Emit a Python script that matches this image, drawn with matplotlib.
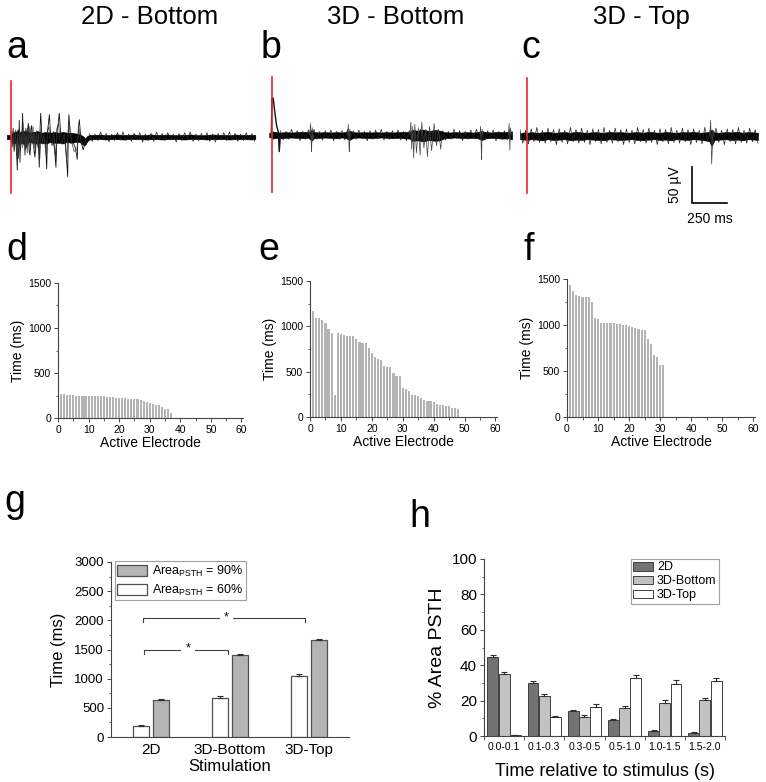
import numpy as np
import matplotlib
matplotlib.use("Agg")
import matplotlib.pyplot as plt
from matplotlib.patches import Patch
from matplotlib.ticker import MultipleLocator, FixedLocator

plt.rcParams['font.family'] = ['Liberation Sans', 'DejaVu Sans']
plt.rcParams['mathtext.fontset'] = 'custom'
plt.rcParams['mathtext.rm'] = 'Liberation Sans'
plt.rcParams['mathtext.it'] = 'Liberation Sans'

nan = np.nan
# ---------------- data ----------------
titles = ["2D - Bottom", "3D - Bottom", "3D - Top"]

# trace a (2D bottom) : time (ms), envelope (uV)
ta_env_t = [-30,-10,0,15,40,70,100,130,160,190,220,250,280,310,340,370,400,430,460,490,515,530,545,560,600,640,680,720,760,800,840,880,920,960,1000,1040,1080,1120,1160,1200,1240,1280,1320,1360,1400,1440,1480,1520,1560,1600,1640,1680,1720,1745]
ta_up = [3,3,3.5,6,8,7,8,6,7,8,6,7,6,7,6,7,6,6,5,4,1,-2,1.5,3,3,3.5,2.5,3,3.5,3,3,3.5,2.5,3,3.5,3,3,3.5,2.5,3,3,3.5,3,2.5,3,3.5,3,3,2.5,3.5,3,3,3,3]
ta_lo = [-3,-3,-4,-8,-9,-8,-9,-7,-8,-9,-8,-9,-7,-8,-8,-9,-7,-8,-7,-7,-11,-11,-6,-3.5,-3,-3,-3.5,-3,-3,-3.5,-3,-3,-3,-3.5,-3,-3,-3.5,-3,-3,-3,-3.5,-3,-3,-3,-3.5,-3,-3,-3,-3.5,-3,-3,-3,-3.5,-3]
ta_sp_t = [0,8,15,22,30,38,45,50,55,59,64,70,76,83,88,94,100,106,112,118,124,130,136,142,148,154,160,165,171,178,185,192,202,208,212,220,228,236,245,255,262,268,274,282,290,300,310,321,330,338,345,355,365,375,390,405,410,414,422,432,445,460,473,480,488,496,505,516,528,540,552]
ta_sp_v = [2,-10,12,-20,8,-15,-46,10,-12,23,-35,5,-8,33,-10,8,-25,12,-15,10,19,-20,-25,10,16,-8,5,-20,-28,0,-10,8,-42,15,33,5,-10,-5,0,-44,10,20,31,5,-8,-5,-15,-42,10,20,33,5,-8,-5,-10,-55,15,31,5,-5,-8,-15,-31,10,24,5,-10,-18,-8,-2,0]
ta_sp2_t = [0,5,12,18,26,34,41,48,53,62,68,74,80,86,92,98,104,110,116,122,128,134,140,146,152,158,164,170,176,182,190,198,206,215,225,235,250,260,270,280,295,305,318,328,340,350,362,380,398,408,418,430,450,470,485,500,520]
ta_sp2_v = [0,8,-14,6,-18,10,-25,6,-30,12,-20,8,-15,20,-12,6,-18,9,-22,8,-12,15,-18,7,-10,14,-16,6,-22,9,-14,6,-30,12,-8,4,-25,8,14,-6,-12,8,-30,12,18,-6,-10,4,-35,10,18,-4,-20,-18,12,-6,-10]
ta_hair = [5,-6,4,-5,7,-4,5,-7,4,-5,6,-4,7,-5,4,-6,5,-4,6,-7,4,-5,5,-6,7,-4,5,-5,6,-4,4,-7,5,-5,6,-4,7,-6,4,-5,5,-4,6,-6,4,-7,5,-4,6,-5,7,-4,5,-6,4,-5,6,-4,5,-6]

# trace b (3D bottom)
tb_env_t = [-20,0,5,30,60,100,140,180,220,260,283,300,340,380,420,460,500,530,552,580,620,660,700,740,780,820,860,900,940,980,1000,1040,1080,1120,1160,1200,1230,1270,1310,1350,1390,1430,1470,1497,1530,1570,1610,1650,1690,1715]
tb_up = [3,4,5,4,3.5,4,3.5,4,4.5,4,7,4,3.5,4,3.5,4,3.5,4.5,6,4,3.5,4,3.5,4,3.5,4,3.5,4,4.5,4,7,6,7.5,5.5,7,6,4,3.5,4,3.5,4,3.5,4,5.5,4,3.5,4.5,4,4.5,5]
tb_lo = [-3,-4,-5,-4,-4.5,-4,-3.5,-4,-4.5,-4,-8,-4.5,-4,-3.5,-4,-4.5,-3.5,-4.5,-7,-4,-3.5,-4,-4.5,-4,-3.5,-4,-4.5,-4,-4.5,-5,-8,-7.5,-9,-7,-8,-7.5,-4.5,-4,-3.5,-4,-4.5,-4,-4.5,-7,-4.5,-4,-4.5,-5,-4.5,-6]
tb_art_t = [-5,0,9,21,34,45,52,60]
tb_art_v = [0,51,51,30,11.6,4.6,-23,0]
tb_sp_t = [268,276,280,283,287,292,298,nan,540,545,549,552,556,562,nan,985,992,998,1005,1012,1020,1032,1045,1058,1070,1085,1098,1110,1125,1140,1158,1175,1190,1205,1215,nan,1485,1490,1494,1497,1501,1508,nan,1688,1694,1699,1704,1710]
tb_sp_v = [0,16,-12,-23,10,-8,0,nan,0,15,-10,-23,8,0,nan,0,18,-20,12,-32,15,-25,10,-28,18,-18,8,-30,12,-22,16,-15,8,-20,0,nan,0,12,-15,-34,8,0,nan,0,16,-21,10,0]
tb_hair = [6,-7,5,-6,8,-5,6,-8,5,-6,7,-5,8,-6,5,-7,6,-5,7,-8,5,-6,6,-7,8,-5,6,-6,7,-5,5,-8,6,-6,7,-5,8,-7,5,-6,6,-5,7,-7,5,-8,6,-5,7,-6,8,-5,6,-7,5,-6,7,-5,6,-7,5,-6,8,-5,6,-8,5,-6,7,-5,8,-6,5,-7,6,-5,7,-8,5,-6,6,-7,8]

# trace c (3D top)
tc_env_t = [-50,-20,0,30,70,110,150,190,230,270,310,350,390,430,470,510,550,590,630,670,710,750,790,830,870,910,950,990,1030,1070,1110,1150,1190,1230,1270,1300,1319,1340,1380,1420,1460,1500,1540,1580,1620,1650]
tc_up = [4,5,4.5,5.5,4.5,5,6,4.5,5,5.5,4.5,6,5,4.5,5.5,5,4.5,6,5,5.5,4.5,5,5.5,4.5,6,5,4.5,5.5,5,4.5,5.5,5,6,4.5,5,5.5,9,5,4.5,5.5,5,6,4.5,5.5,5,4.5]
tc_lo = [-4.5,-5,-5.5,-4.5,-5,-6,-4.5,-5.5,-5,-4.5,-6,-5,-5.5,-4.5,-5,-5.5,-6,-4.5,-5,-5.5,-5,-4.5,-5.5,-6,-5,-4.5,-5.5,-5,-6,-4.5,-5,-5.5,-4.5,-5,-6,-7,-14,-5.5,-5,-4.5,-5.5,-5,-6,-4.5,-5,-5.5]
tc_sp_t = [1305,1312,1316,1319,1323,1328,1335]
tc_sp_v = [0,22,-15,-39,-20,8,0]
tc_hair = [9,-10,8,-11,10,-8,12,-9,8,-10,11,-8,9,-12,10,-9,8,-11,12,-8,9,-10,11,-9,8,-12,10,-8,9,-11,12,-9,8,-10,11,-8,9,-12,10,-9,8,-11,12,-8,9,-10,11,-9,8,-12,10,-8,9,-11,12,-9,8,-10,11,-8,9,-12,10,-9,8,-11,12,-8,9,-10,11,-9,8,-12,10,-8,9,-11,12,-9,8,-10,11,-8,9,-10]

stim_span = [(-78, 78), (-79, 81), (-79, 81)]
scale_uV = 50
scale_ms = 250

# panels d-f : time per active electrode (ms)
d_vals = [265,262,255,253,252,250,248,246,245,244,243,242,241,240,239,238,236,230,226,222,220,218,216,214,210,206,200,190,175,165,160,150,140,125,100,95,60]
e_vals = [1173,1096,1096,1070,1041,968,931,246,924,913,906,898,898,898,858,832,814,814,759,704,660,642,631,557,552,552,485,455,450,320,312,285,242,240,227,209,191,180,178,165,147,136,136,125,117,99,95,88]
f_vals = [1430,1373,1330,1320,1308,1300,1300,1245,1076,1069,1022,1022,1022,1022,1018,1015,1015,1004,997,986,975,967,960,950,942,851,797,678,652,562,562]

# panel g
g_groups = ["2D", "3D-Bottom", "3D-Top"]
g_60 = [190, 670, 1050]
g_60_err = [10, 30, 35]
g_90 = [635, 1400, 1660]
g_90_err = [15, 20, 20]

# panel h
h_bins = ["0.0-0.1", "0.1-0.3", "0.3-0.5", "0.5-1.0", "1.0-1.5", "1.5-2.0"]
h_2d = [44.5, 29.8, 14.0, 9.0, 2.8, 1.7]
h_2d_err = [1.0, 1.0, 0.5, 0.5, 0.5, 0.3]
h_3db = [35.1, 22.6, 10.9, 15.7, 18.9, 20.2]
h_3db_err = [1.2, 1.0, 1.0, 1.0, 1.3, 1.2]
h_3dt = [0.3, 10.6, 16.2, 33.0, 29.2, 31.0]
h_3dt_err = [0.0, 0.7, 1.8, 1.6, 2.3, 2.0]

# ---------------- figure ----------------
W, H = 766, 782
fig = plt.figure(figsize=(W/100, H/100), dpi=100)

def px_axes(l, t, r, b):
    return fig.add_axes([l/W, 1 - b/H, (r-l)/W, (b-t)/H])

def ftext(x, y, s, **kw):
    fig.text(x/W, 1 - y/H, s, **kw)

MS_PER_PX = 250/35.0
UV_PER_PX = 50/36.0

def trace_axes(l, r, x0, base, top=70, bot=240):
    ax = px_axes(l, top, r, bot)
    ax.set_xlim((l - x0)*MS_PER_PX, (r - x0)*MS_PER_PX)
    ax.set_ylim((base - bot)*UV_PER_PX, (base - top)*UV_PER_PX)
    ax.axis('off')
    return ax

trace_specs = [
    (trace_axes(3, 262, 11, 137), ta_env_t, ta_up, ta_lo, 560, ta_hair),
    (trace_axes(265, 520, 272, 135), tb_env_t, tb_up, tb_lo, 60, tb_hair),
    (trace_axes(520, 766, 527, 136), tc_env_t, tc_up, tc_lo, -50, tc_hair),
]
for i, (ax, tt, up, lo, h0, hair) in enumerate(trace_specs):
    ax.fill_between(tt, lo, up, color='black', lw=0.4, zorder=2)
    ht = h0 + 20*np.arange(len(hair))
    ax.plot(ht, hair, color='#222222', lw=0.5, zorder=2)
    ax.plot([0, 0], stim_span[i], color='#e8282b', lw=1.2, zorder=4)
axa, axb, axc = [s[0] for s in trace_specs]
axa.plot(ta_sp_t, ta_sp_v, color='#111111', lw=0.6, zorder=3)
axa.plot(ta_sp2_t, ta_sp2_v, color='#333333', lw=0.5, zorder=3)
axb.plot(tb_art_t, tb_art_v, color='#111111', lw=1.0, zorder=3)
axb.plot(tb_sp_t, tb_sp_v, color='#444444', lw=0.5, zorder=3)
axc.plot(tc_sp_t, tc_sp_v, color='#444444', lw=0.5, zorder=3)

# scale bar in trace c
t0, v0 = 1178, -93
axc.plot([t0, t0, t0 + scale_ms], [v0 + scale_uV, v0, v0], color='black', lw=1.2,
         solid_joinstyle='miter', clip_on=False)
axc.text(t0 - 17*MS_PER_PX, v0 + scale_uV/2, "50 µV", rotation=90, ha='center', va='center', fontsize=10)
axc.text(t0 + 18*MS_PER_PX, v0 - 16*UV_PER_PX, "250 ms", ha='center', va='center', fontsize=10)

# titles and letters
for x, s in zip([150, 396, 641], titles):
    ftext(x, 24, s, fontsize=18.5, ha='center', va='baseline')
for x, y, s in [(6, 58, 'a'), (261, 58, 'b'), (521, 58, 'c'),
                (6, 260, 'd'), (258, 260, 'e'), (524, 260, 'f'),
                (4, 512, 'g'), (409, 527, 'h')]:
    ftext(x, y, s, fontsize=27, ha='left', va='baseline')

SP = '#444444'
def style(ax, fs):
    for s in ['top', 'right']:
        ax.spines[s].set_visible(False)
    for s in ['left', 'bottom']:
        ax.spines[s].set_color(SP)
        ax.spines[s].set_linewidth(0.8)
    ax.tick_params(which='both', direction='out', color=SP, labelsize=fs, pad=2)
    ax.tick_params(which='major', length=3, width=0.7)
    ax.tick_params(which='minor', length=1.8, width=0.6)

# panels d, e, f
for (l, t, r, b), vals in zip([(58, 283, 243, 418), (310, 281, 497, 417), (567, 279, 755, 417)],
                              [d_vals, e_vals, f_vals]):
    ax = px_axes(l, t, r, b)
    x = np.arange(1, len(vals) + 1)
    ax.bar(x, vals, width=0.68, color='#b4b4b4', edgecolor='none')
    ax.set_xlim(0, 60.5)
    ax.set_ylim(0, 1500)
    ax.xaxis.set_major_locator(MultipleLocator(10))
    ax.xaxis.set_minor_locator(MultipleLocator(5))
    ax.yaxis.set_major_locator(MultipleLocator(500))
    ax.yaxis.set_minor_locator(MultipleLocator(250))
    style(ax, 7.5)
    ax.set_ylabel("Time (ms)", fontsize=10, labelpad=2)
    ax.set_xlabel("Active Electrode", fontsize=10, labelpad=1)

# panel g
axg = px_axes(111, 562, 349, 737)
gx = np.arange(1, len(g_groups) + 1)
bw = 0.2
ekg = dict(elinewidth=0.8, capthick=0.8, ecolor='#303030')
axg.bar(gx - 0.125, g_60, width=bw, color='white', edgecolor='#505050', lw=0.9,
        yerr=[np.zeros(3), g_60_err], capsize=2.5, error_kw=ekg)
axg.bar(gx + 0.125, g_90, width=bw, color='#b4b4b4', edgecolor='#505050', lw=0.9,
        yerr=[np.zeros(3), g_90_err], capsize=2.5, error_kw=ekg)
axg.set_xlim(0.5, 3.5)
axg.set_ylim(0, 3000)
axg.set_xticks(gx)
axg.set_xticklabels(g_groups, fontsize=11)
axg.yaxis.set_major_locator(MultipleLocator(500))
axg.yaxis.set_minor_locator(MultipleLocator(250))
style(axg, 9.5)
axg.tick_params(axis='x', labelsize=11, length=0, pad=4)
axg.set_ylabel("Time (ms)", fontsize=12, labelpad=6)
axg.set_xlabel("Stimulation", fontsize=12, labelpad=2)
# significance brackets
for x1, x2, y in [(0.9, 2.95, 2040), (0.91, 1.97, 1500)]:
    axg.plot([x1, x1, x2, x2], [y - 70, y, y, y - 70], color='#404040', lw=0.8)
    axg.text((x1 + x2)/2 + 0.03, y + 10, '*', ha='center', va='center', fontsize=9,
             bbox=dict(facecolor='white', edgecolor='none', pad=3))
hg = [Patch(facecolor='#b4b4b4', edgecolor='#505050', lw=0.9), Patch(facecolor='white', edgecolor='#505050', lw=0.9)]
lg = axg.legend(hg, [r'Area$_{\mathregular{PSTH}}$ = 90%', r'Area$_{\mathregular{PSTH}}$ = 60%'],
                loc='upper left', bbox_to_anchor=(0.015, 1.005), fontsize=9, frameon=True, fancybox=False,
                handlelength=2.4, handleheight=0.95, handletextpad=0.4, borderpad=0.2, labelspacing=0.3,
                borderaxespad=0)
lg.get_frame().set_edgecolor('#888888')
lg.get_frame().set_linewidth(0.8)

# panel h
axh = px_axes(484, 559, 725, 736)
hx = np.arange(len(h_bins))
w = 0.27
ek = dict(elinewidth=0.8, capthick=0.8, ecolor='#303030')
axh.bar(hx - 0.28, h_2d, width=w, color='#737373', edgecolor='#404040', lw=0.7,
        yerr=[np.zeros(6), h_2d_err], capsize=2, error_kw=ek, label='2D')
axh.bar(hx, h_3db, width=w, color='#c2c2c2', edgecolor='#404040', lw=0.7,
        yerr=[np.zeros(6), h_3db_err], capsize=2, error_kw=ek, label='3D-Bottom')
axh.bar(hx + 0.28, h_3dt, width=w, color='white', edgecolor='#404040', lw=0.7,
        yerr=[np.zeros(6), h_3dt_err], capsize=2, error_kw=ek, label='3D-Top')
axh.set_xlim(-0.5, 5.5)
axh.set_ylim(0, 100)
axh.set_xticks(hx)
axh.set_xticklabels(h_bins)
axh.xaxis.set_minor_locator(FixedLocator(np.arange(-0.5, 6, 1.0)))
axh.yaxis.set_major_locator(MultipleLocator(20))
axh.yaxis.set_minor_locator(MultipleLocator(10))
style(axh, 11)
axh.tick_params(axis='x', which='major', labelsize=7.5, length=0, pad=4)
axh.tick_params(axis='x', which='minor', length=3)
axh.set_ylabel("% Area PSTH", fontsize=14, labelpad=4)
axh.set_xlabel("Time relative to stimulus (s)", fontsize=13, labelpad=8)
lh = axh.legend(loc='upper right', bbox_to_anchor=(0.975, 1.0), fontsize=9, frameon=True, fancybox=False,
                handlelength=1.6, handleheight=0.7, handletextpad=0.3, borderpad=0.2, labelspacing=0.15,
                borderaxespad=0)
lh.get_frame().set_edgecolor('#888888')
lh.get_frame().set_linewidth(0.8)

fig.savefig("out.png", dpi=100)
